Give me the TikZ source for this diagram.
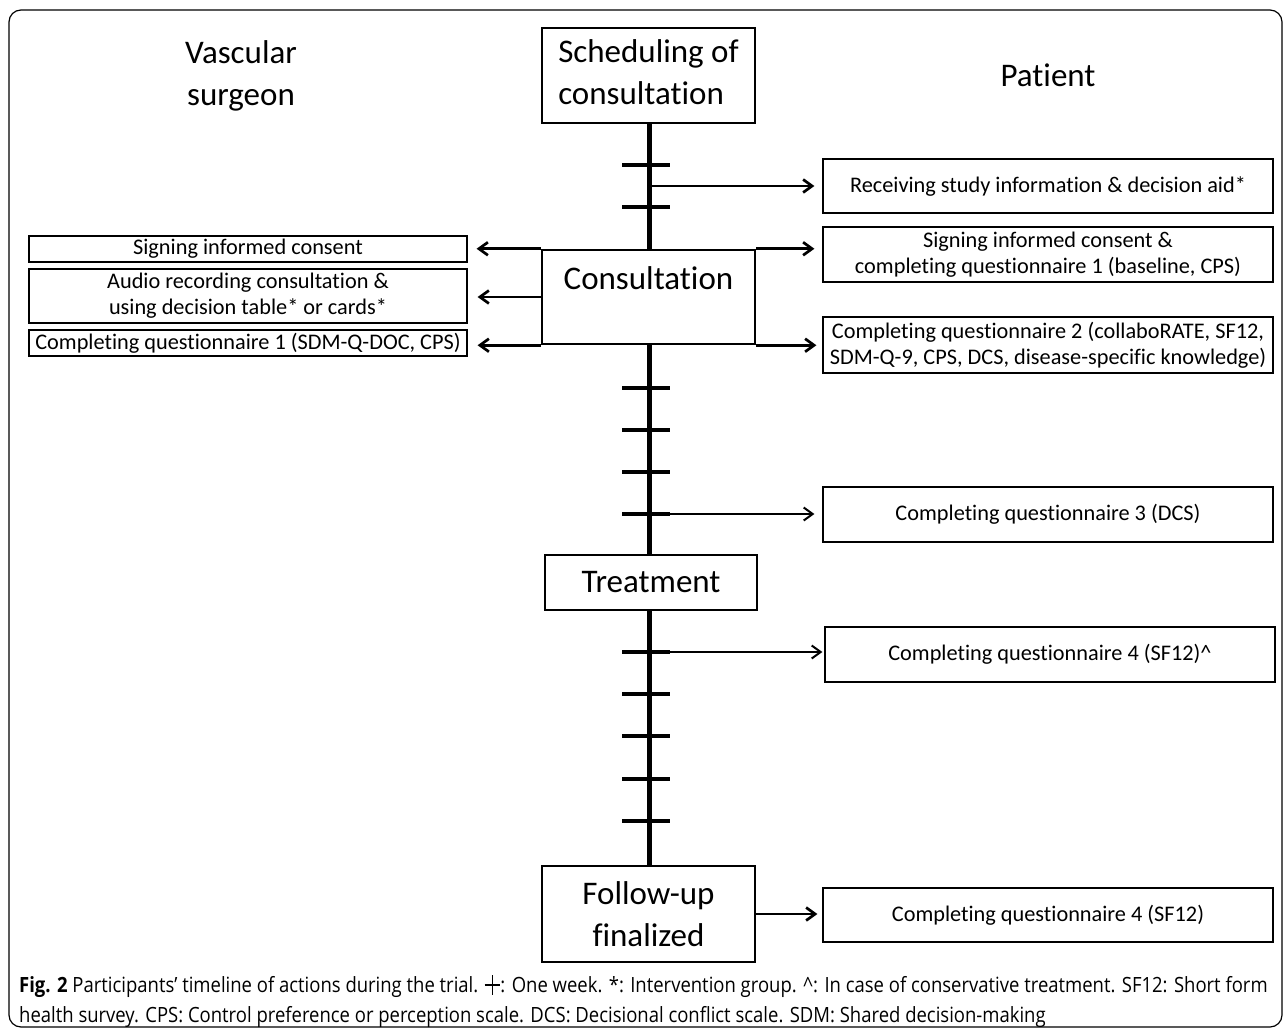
\documentclass[tikz,border=0pt]{standalone}
\usepackage{fontspec}
\setmainfont{Carlito}[Ligatures=NoCommon]
\newfontfamily\capfont[FakeStretch=0.88]{Open Sans}
\usetikzlibrary{arrows.meta}
\newcommand\wksym{\rule[0.3em]{0.75em}{0.08em}\kern-0.42em\rule[-0.12em]{0.08em}{0.95em}\kern0.34em}
\begin{document}
\begin{tikzpicture}[x=1pt,y=-1pt,
 big/.style={draw, line width=2.5pt, font=\fontsize{33}{42}\selectfont, align=center, inner sep=0pt},
 side/.style={draw, line width=1.2pt, font=\fontsize{22.3}{26}\selectfont, align=center, inner sep=0pt},
 leftbox/.style={side, minimum width=438pt},
 rightbox/.style={side, minimum width=450pt},
 arr/.style={line width=2.7pt, -{Straight Barb[length=9pt,width=13pt]}},
 arrthin/.style={line width=2pt, -{Straight Barb[length=9pt,width=13pt]}},
 tl/.style={line width=5pt},
 wtick/.style={line width=4pt},
 hdr/.style={font=\fontsize{33}{42}\selectfont, align=center}]

\useasboundingbox (0,0) rectangle (1285,1033);
\draw[line width=1.2pt, rounded corners=12pt] (9,10) rectangle (1282,1027);

% headers
\node[hdr] (vs) at (241,76) {Vascular\\surgeon};
\node[hdr] (pat) at (1048,75) {Patient};

% main timeline boxes
\node[big, minimum width=213pt, minimum height=95pt] (sched) at (648.5,75.5) {\begin{tabular}{@{}l@{}}Scheduling of\\consultation\end{tabular}};
\node[big, minimum width=213pt, minimum height=94pt] (cons) at (648.5,297) {Consultation\\[-16pt]\strut};
\node[big, minimum width=212pt, minimum height=55pt] (treat) at (651,582.5) {Treatment};
\node[big, minimum width=213pt, minimum height=96pt] (fu) at (648.5,914) {Follow-up\\finalized};

% left boxes
\node[leftbox, minimum height=26pt] (sicL) at (248,249) {Signing informed consent};
\node[leftbox, minimum height=54pt] (audio) at (248,296) {Audio recording consultation \&\\using decision table* or cards*};
\node[leftbox, minimum height=26pt] (cq1) at (248,343) {Completing questionnaire 1 (SDM-Q-DOC, CPS)};

% right boxes
\node[rightbox, minimum height=54pt] (recv) at (1048,186) {Receiving study information \& decision aid*};
\node[rightbox, minimum height=55pt] (sicR) at (1048,254.5) {Signing informed consent \&\\completing questionnaire 1 (baseline, CPS)};
\node[rightbox, minimum height=56pt] (q2) at (1048,345) {Completing questionnaire 2 (collaboRATE, SF12,\\SDM-Q-9, CPS, DCS, disease-specific knowledge)};
\node[rightbox, minimum height=55pt] (q3) at (1048,514.5) {Completing questionnaire 3 (DCS)};
\node[rightbox, minimum height=55pt] (q4) at (1050,654.5) {Completing questionnaire 4 (SF12)\textasciicircum};
\node[rightbox, minimum height=54pt] (q4b) at (1048,915) {Completing questionnaire 4 (SF12)};

% week coordinates
\coordinate (w1) at (649,165);
\coordinate (w2) at (649,207);
\coordinate (r1) at (649,186);
\coordinate (w3) at (649,388);
\coordinate (w4) at (649,430);
\coordinate (w5) at (649,472);
\coordinate (w6) at (649,514);
\coordinate (w7) at (649,652);
\coordinate (w8) at (649,694);
\coordinate (w9) at (649,736);
\coordinate (w10) at (649,779);
\coordinate (w11) at (649,821);

% timeline
\draw[tl] (sched.south -| w1) -- (cons.north -| w1);
\draw[tl] (cons.south -| w1) -- (treat.north -| w1);
\draw[tl] (treat.south -| w1) -- (fu.north -| w1);

\foreach \w in {w1,w2,w3,w4,w5,w6,w7,w8,w9,w10,w11}
  \draw[wtick] ([xshift=-27pt]\w) -- ([xshift=21pt]\w);

% arrows
\draw[arr, shorten >=8pt] (r1) -- (r1 -| recv.west);
\draw[arr, shorten >=9pt] (cons.north west) -- (cons.north west -| sicL.east);
\draw[arr, shorten >=8pt] (cons.north east) -- (cons.north east -| sicR.west);
\draw[arr, shorten >=10pt] (cons.west) -- (cons.west -| audio.east);
\draw[arr, shorten >=10pt] (cons.south west) -- (cons.south west -| cq1.east);
\draw[arr, shorten >=6pt] (cons.south east) -- (cons.south east -| q2.west);
\draw[arrthin, shorten >=8pt] (w6) -- (w6 -| q3.west);
\draw[arrthin, shorten >=2pt] (w7) -- (w7 -| q4.west);
\draw[arr, shorten >=5pt] (fu.east) -- (fu.east -| q4b.west);

% caption
\node[anchor=west, font=\capfont\fontsize{21}{30}\selectfont, align=left, inner sep=0pt] (cap) at (19,1001)
 {\textbf{Fig. 2} Participants’ timeline of actions during the trial. \wksym: One week. *: Intervention group. \textasciicircum: In case of conservative treatment. SF12: Short form\\health survey. CPS: Control preference or perception scale. DCS: Decisional conflict scale. SDM: Shared decision-making};
\end{tikzpicture}
\end{document}
